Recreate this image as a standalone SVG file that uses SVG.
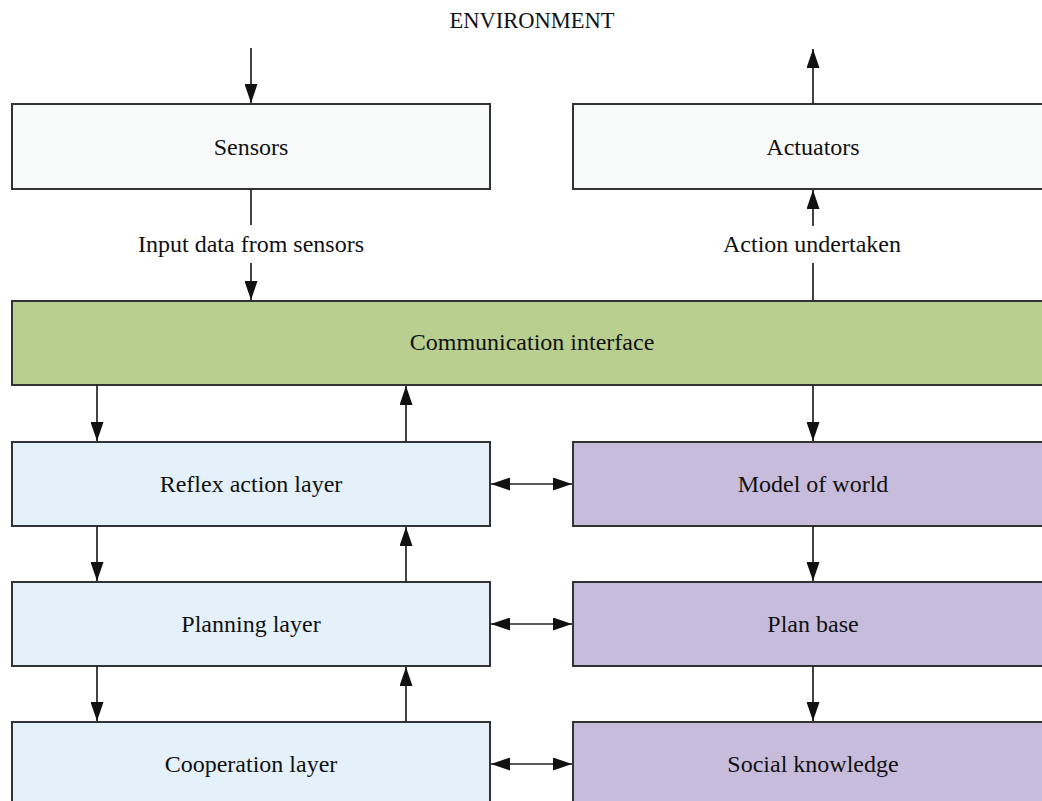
<svg xmlns="http://www.w3.org/2000/svg" width="1042" height="801" viewBox="0 0 1042 801">
  <style>
    text { font-family: "Liberation Serif", "Times New Roman", serif; font-size: 24px; fill: #111; text-anchor: middle; }
    .box { stroke: #333; stroke-width: 2; }
    .io { fill: #f8f9f9; }
    .comm { fill: #b8cf90; }
    .layer { fill: #e4f0fa; }
    .kb { fill: #c8bcdc; }
    .conn line { stroke: #222; stroke-width: 1.7; fill: none; }
  </style>
  <defs>
    <marker id="ah" markerUnits="userSpaceOnUse" markerWidth="19" markerHeight="13" refX="19" refY="6.5" orient="auto-start-reverse">
      <path d="M0,0 L19,6.5 L0,13 z" fill="#111"/>
    </marker>
  </defs>

  <text id="environment" x="532" y="28" style="font-size:22.5px">ENVIRONMENT</text>

  <g id="sensors">
    <rect class="box io" x="12" y="104" width="478" height="85"/>
    <text x="251" y="155">Sensors</text>
  </g>
  <g id="actuators">
    <rect class="box io" x="573" y="104" width="479" height="85"/>
    <text x="813" y="155">Actuators</text>
  </g>
  <g id="communication-interface">
    <rect class="box comm" x="12" y="301" width="1040" height="84"/>
    <text x="532" y="350">Communication interface</text>
  </g>
  <g id="reflex-action-layer">
    <rect class="box layer" x="12" y="442" width="478" height="84"/>
    <text x="251" y="492">Reflex action layer</text>
  </g>
  <g id="planning-layer">
    <rect class="box layer" x="12" y="582" width="478" height="84"/>
    <text x="251" y="632">Planning layer</text>
  </g>
  <g id="cooperation-layer">
    <rect class="box layer" x="12" y="722" width="478" height="84"/>
    <text x="251" y="772">Cooperation layer</text>
  </g>
  <g id="model-of-world">
    <rect class="box kb" x="573" y="442" width="479" height="84"/>
    <text x="813" y="492">Model of world</text>
  </g>
  <g id="plan-base">
    <rect class="box kb" x="573" y="582" width="479" height="84"/>
    <text x="813" y="632">Plan base</text>
  </g>
  <g id="social-knowledge">
    <rect class="box kb" x="573" y="722" width="479" height="84"/>
    <text x="813" y="772">Social knowledge</text>
  </g>

  <g id="connectors" class="conn">
    <line x1="251" y1="48" x2="251" y2="103" marker-end="url(#ah)"/>
    <line x1="813" y1="104" x2="813" y2="49" marker-end="url(#ah)"/>
    <line x1="251" y1="189" x2="251" y2="225"/>
    <line x1="251" y1="263" x2="251" y2="300" marker-end="url(#ah)"/>
    <line x1="813" y1="301" x2="813" y2="263"/>
    <line x1="813" y1="226" x2="813" y2="190" marker-end="url(#ah)"/>
    <line x1="97" y1="385" x2="97" y2="441" marker-end="url(#ah)"/>
    <line x1="406" y1="442" x2="406" y2="386" marker-end="url(#ah)"/>
    <line x1="97" y1="526" x2="97" y2="581" marker-end="url(#ah)"/>
    <line x1="406" y1="582" x2="406" y2="527" marker-end="url(#ah)"/>
    <line x1="97" y1="666" x2="97" y2="721" marker-end="url(#ah)"/>
    <line x1="406" y1="722" x2="406" y2="667" marker-end="url(#ah)"/>
    <line x1="813" y1="385" x2="813" y2="441" marker-end="url(#ah)"/>
    <line x1="813" y1="526" x2="813" y2="581" marker-end="url(#ah)"/>
    <line x1="813" y1="666" x2="813" y2="721" marker-end="url(#ah)"/>
    <line x1="491" y1="484" x2="572" y2="484" marker-start="url(#ah)" marker-end="url(#ah)"/>
    <line x1="491" y1="624" x2="572" y2="624" marker-start="url(#ah)" marker-end="url(#ah)"/>
    <line x1="491" y1="764" x2="572" y2="764" marker-start="url(#ah)" marker-end="url(#ah)"/>
  </g>
  <g id="labels">
    <text x="251" y="252">Input data from sensors</text>
    <text x="812" y="252">Action undertaken</text>
  </g>
</svg>
